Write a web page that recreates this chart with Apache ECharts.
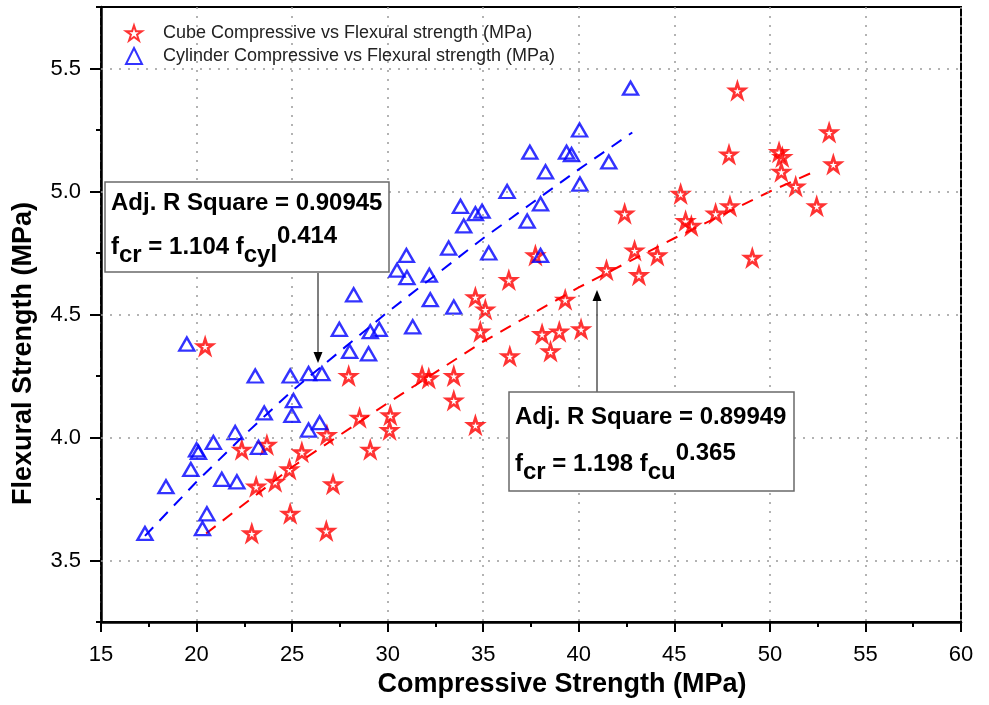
<!DOCTYPE html>
<html>
<head>
<meta charset="utf-8">
<script src="https://cdn.jsdelivr.net/npm/echarts@6/dist/echarts.min.js"></script>
<style>
html,body{margin:0;padding:0;background:#fff;}
#chart{width:989px;height:705px;}
</style>
</head>
<body>
<div id="chart"></div>
<script>
// ---- data ----
const cubeX = [20.45,22.37,23.68,22.89,23.12,24.11,24.86,24.90,25.51,26.82,26.79,27.14,27.96,28.53,29.09,30.14,30.10,31.80,32.15,33.46,33.46,34.59,34.59,35.11,34.85,36.34,36.39,37.73,38.08,38.52,38.98,39.29,40.12,41.45,42.40,42.92,43.15,44.11,45.33,45.59,45.89,47.16,47.91,47.86,48.30,49.08,50.48,50.65,50.60,51.35,52.45,53.10,53.32];
const cubeY = [4.37,3.95,3.97,3.61,3.80,3.82,3.87,3.69,3.94,4.01,3.62,3.81,4.25,4.08,3.95,4.09,4.03,4.25,4.24,4.25,4.15,4.05,4.57,4.52,4.43,4.64,4.33,4.74,4.42,4.35,4.43,4.56,4.44,4.68,4.91,4.76,4.66,4.74,4.99,4.88,4.86,4.91,4.94,5.15,5.41,4.73,5.16,5.14,5.08,5.02,4.94,5.24,5.11];
const cylX = [17.30,18.40,19.70,20.00,20.10,20.88,20.54,20.31,21.32,22.11,22.02,23.24,23.54,23.07,24.90,25.07,24.99,25.86,26.44,25.86,26.56,19.49,27.47,28.22,28.01,29.00,29.09,29.56,30.49,30.98,31.01,31.31,32.23,32.18,33.19,33.46,33.81,33.98,34.59,34.94,35.29,36.25,38.00,37.30,38.00,40.06,42.71,40.04,37.44,39.36,39.62,38.26,41.57];
const cylY = [3.61,3.80,3.87,3.95,3.94,3.98,3.69,3.63,3.83,3.82,4.02,3.96,4.10,4.25,4.25,4.15,4.09,4.03,4.06,4.26,4.26,4.38,4.44,4.58,4.35,4.34,4.43,4.44,4.68,4.74,4.65,4.45,4.56,4.66,4.77,4.53,4.94,4.86,4.91,4.92,4.75,5.00,4.95,4.88,4.74,5.03,5.42,5.25,5.16,5.16,5.15,5.08,5.12];
// fitted curves
const cylFitX = [17.3, 20, 22.5, 25, 27.5, 30, 32.5, 35, 37.5, 40, 42.8];
const cylFitY = [3.60, 3.82, 4.01, 4.19, 4.35, 4.51, 4.66, 4.81, 4.95, 5.09, 5.24];
const cubeFitX = [20.5, 25, 30, 35, 40, 45, 50, 52.3];
const cubeFitY = [3.61, 3.88, 4.14, 4.39, 4.61, 4.81, 5.00, 5.08];
const xTicks = [15,20,25,30,35,40,45,50,55,60];
const yTicks = [3.5,4.0,4.5,5.0,5.5];
const seriesNames = ['Cube Compressive vs Flexural strength (MPa)','Cylinder Compressive vs Flexural strength (MPa)'];
const xTitle = 'Compressive Strength (MPa)';
const yTitle = 'Flexural Strength (MPa)';

const FONT = '"Liberation Sans", Arial, sans-serif';
const STAR = 'path://M50,2 L61.2,36 L97.6,36 L68.2,57.2 L79.4,91.6 L50,70.4 L20.6,91.6 L31.8,57.2 L2.4,36 L38.8,36 Z';
const zip = (a, b) => a.map((v, i) => [v, b[i]]);
const grid = {left: 101, top: 7, width: 860, height: 615};

const chart = echarts.init(document.getElementById('chart'), null, {renderer: 'canvas'});
const gridLine = {color: '#9a9a9a', type: [2, 7], width: 1.5};

const option = {
  backgroundColor: '#fff',
  animation: false,
  grid: Object.assign({show: true, borderColor: '#000', borderWidth: 2, backgroundColor: 'transparent'}, grid),
  legend: {
    orient: 'vertical', left: 120, top: 19, itemWidth: 16, itemHeight: 16, itemGap: 5,
    data: [{name: seriesNames[0], icon: STAR}, {name: seriesNames[1], icon: 'triangle'}],
    textStyle: {fontFamily: FONT, fontSize: 18, color: '#222', padding: [0, 0, 0, 16], lineHeight: 18}
  },
  xAxis: {
    type: 'value', min: xTicks[0], max: xTicks[xTicks.length - 1], interval: 5,
    name: xTitle, nameLocation: 'middle', nameGap: 37,
    nameTextStyle: {fontFamily: FONT, fontSize: 27, fontWeight: 'bold', color: '#000', padding: [0, 0, 0, 62]},
    axisLine: {lineStyle: {color: '#000', width: 2.5}},
    axisTick: {length: 10, lineStyle: {color: '#000', width: 2}},
    minorTick: {show: true, splitNumber: 2, length: 5, lineStyle: {color: '#000', width: 2}},
    axisLabel: {fontFamily: FONT, fontSize: 22, color: '#000', margin: 22},
    splitLine: {show: true, lineStyle: gridLine}
  },
  yAxis: [{
    type: 'value', min: 3.25, max: 5.75, interval: 0.25,
    name: yTitle, nameLocation: 'middle', nameGap: 64,
    nameTextStyle: {fontFamily: FONT, fontSize: 27, fontWeight: 'bold', color: '#000', padding: [0, 78, 0, 0]},
    axisLine: {show: true, lineStyle: {color: '#000', width: 2.5}},
    axisTick: {show: true, length: 11, customValues: yTicks, lineStyle: {color: '#000', width: 2}},
    axisLabel: {customValues: yTicks, fontFamily: FONT, fontSize: 22, color: '#000', margin: 20,
      formatter: v => (Math.abs(v * 2 - Math.round(v * 2)) < 1e-6 ? v.toFixed(1) : '')},
    splitLine: {show: false}
  }, {
    type: 'value', min: 3.25, max: 5.75, interval: 0.25, position: 'left',
    axisLine: {show: false}, axisLabel: {show: false}, splitLine: {show: false},
    axisTick: {show: true, length: 5, lineStyle: {color: '#000', width: 2}}
  }],
  series: [
    {
      type: 'line', name: 'cylFit', data: zip(cylFitX, cylFitY), symbol: 'none', z: 3,
      lineStyle: {color: '#0000ff', width: 2, type: [12, 9]}, silent: true,
      markLine: {silent: true, symbol: ['none', 'none'], label: {show: false}, lineStyle: gridLine,
        data: yTicks.map(v => ({yAxis: v}))}
    },
    {
      type: 'line', name: 'cubeFit', data: zip(cubeFitX, cubeFitY), symbol: 'none', z: 3,
      lineStyle: {color: '#ff0000', width: 2, type: [12, 9]}, silent: true
    },
    {
      type: 'scatter', name: seriesNames[0], data: zip(cubeX, cubeY), symbol: STAR, symbolSize: 15, z: 4,
      itemStyle: {color: 'rgba(255,255,255,0)', borderColor: '#ff0000', borderWidth: 2.6}
    },
    {
      type: 'scatter', name: seriesNames[1], data: zip(cylX, cylY), symbol: 'triangle', symbolSize: [15, 13], z: 4,
      itemStyle: {color: 'rgba(255,255,255,0)', borderColor: '#0000ff', borderWidth: 2.4}
    }
  ],
  graphic: []
};

function annotation(x, y, w, h, line1, y1, base, sub1, mid, sub2, sup, yb) {
  const rich = {
    m: {fontFamily: FONT, fontSize: 24, fontWeight: 'bold', fill: '#000', lineHeight: 26, padding: [0, 0, 8, 0], verticalAlign: 'bottom'},
    s: {fontFamily: FONT, fontSize: 24, fontWeight: 'bold', fill: '#000', lineHeight: 26, verticalAlign: 'bottom'},
    p: {fontFamily: FONT, fontSize: 24, fontWeight: 'bold', fill: '#000', lineHeight: 26, padding: [0, 0, 19, 0], verticalAlign: 'bottom'}
  };
  return [
    {type: 'rect', shape: {x: x, y: y, width: w, height: h}, style: {fill: '#fff', stroke: '#6a6a6a', lineWidth: 1.5}, z: 100},
    {type: 'text', x: x + 6, y: y1, z: 101, style: {text: line1, font: 'bold 24px ' + FONT, fill: '#000', verticalAlign: 'middle', align: 'left'}},
    {type: 'text', x: x + 6, y: yb, z: 101, style: {
      text: '{m|' + base + '}{s|' + sub1 + '}{m|' + mid + '}{s|' + sub2 + '}{p|' + sup + '}',
      rich: rich, verticalAlign: 'bottom', align: 'left'}}
  ];
}

option.graphic = [].concat(
  annotation(105, 182, 284, 90, 'Adj. R Square = 0.90945', 203.6, 'f', 'cr', ' = 1.104 f', 'cyl', '0.414', 267.6),
  annotation(509, 392, 285, 99, 'Adj. R Square = 0.89949', 417.6, 'f', 'cr', ' = 1.198 f', 'cu', '0.365', 484.6),
  [
    {type: 'line', shape: {x1: 318, y1: 273, x2: 318, y2: 354}, style: {stroke: '#555', lineWidth: 1.5}, z: 99},
    {type: 'polygon', shape: {points: [[313.5, 352], [322.5, 352], [318, 363]]}, style: {fill: '#000'}, z: 99},
    {type: 'line', shape: {x1: 597, y1: 392, x2: 597, y2: 299}, style: {stroke: '#555', lineWidth: 1.5}, z: 99},
    {type: 'polygon', shape: {points: [[592.5, 301], [601.5, 301], [597, 290]]}, style: {fill: '#000'}, z: 99}
  ]
);

chart.setOption(option);
</script>
</body>
</html>
